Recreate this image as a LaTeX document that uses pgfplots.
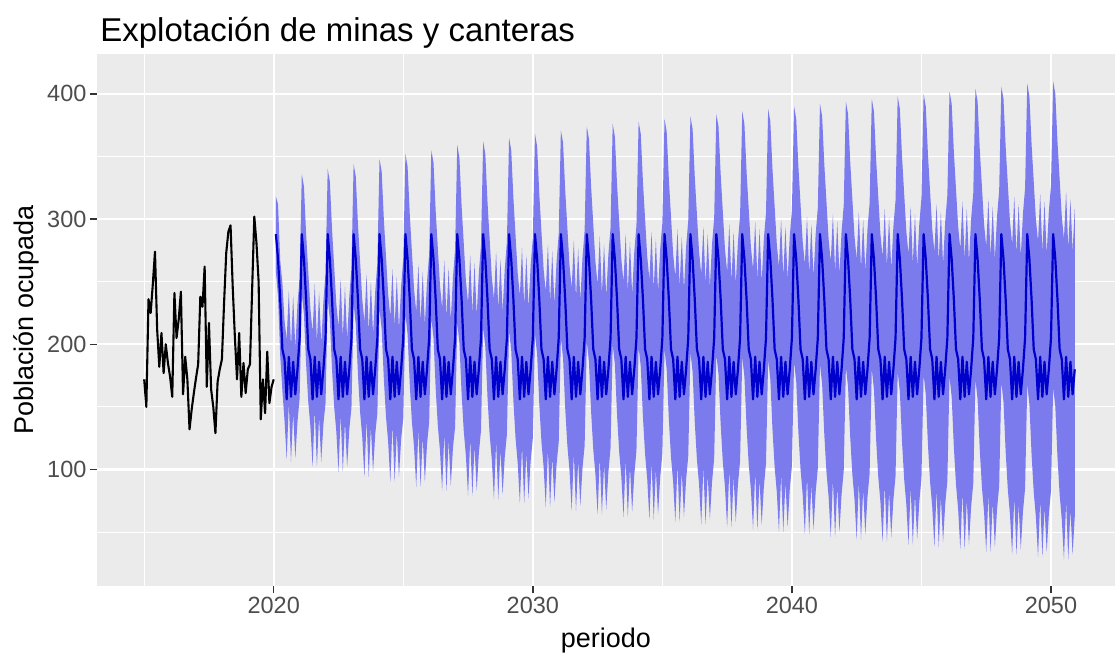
\documentclass[border=0pt]{standalone}
\usepackage{fontspec}
\setmainfont{Liberation Sans}
\usepackage{pgfplots}
\usepackage{pgfplotstable}
\pgfplotsset{compat=1.18}
\usepgfplotslibrary{fillbetween}

\definecolor{panel}{HTML}{EBEBEB}
\definecolor{band}{RGB}{123,123,237}
\definecolor{meanblue}{RGB}{0,0,205}
\definecolor{ticktext}{HTML}{4D4D4D}
\definecolor{tickmark}{HTML}{333333}

% t = months since Jan 2015
\pgfplotstableread{
t v
0 172
1 150
2 236
3 225
4 248
5 274
6 212
7 182
8 209
9 177
10 200
11 185
12 174
13 158
14 241
15 205
16 220
17 242
18 160
19 190
20 172
21 132
22 148
23 161
24 173
25 184
26 238
27 230
28 262
29 166
30 217
31 164
32 150
33 129
34 170
35 180
36 188
37 233
38 273
39 290
40 295
41 246
42 206
43 172
44 209
45 158
46 185
47 161
48 180
49 184
50 244
51 302
52 281
53 250
54 140
55 172
56 145
57 194
58 153
59 166
60 172
}\observed

% forecast: mean, lower and upper bound
\pgfplotstableread{
t m lo hi
61 288 258 318
62 268 238 312
63 236 191 267
64 196 163 249
65 188 139 219
66 156 108 204
67 190 153 243
68 158 106 198
69 186 145 239
70 160 109 197
71 180 138 232
72 205 157 253
73 288 240 336
74 268 224 326
75 236 184 288
76 196 154 258
77 188 134 228
78 156 102 210
79 190 148 248
80 158 102 202
81 186 142 242
82 160 106 200
83 180 136 234
84 205 153 257
85 288 236 340
86 268 220 330
87 236 180 292
88 196 150 262
89 188 130 232
90 156 98 214
91 190 144 252
92 158 98 206
93 186 138 246
94 160 102 204
95 180 132 238
96 205 149 261
97 288 232 344
98 268 216 334
99 236 176 296
100 196 146 266
101 188 126 236
102 156 94 218
103 190 140 256
104 158 94 210
105 186 134 250
106 160 98 208
107 180 128 242
108 205 145 265
109 288 228 348
110 268 212 338
111 236 172 300
112 196 142 270
113 188 122 240
114 156 90 222
115 190 136 260
116 158 90 214
117 186 130 254
118 160 94 212
119 180 124 246
120 205 141 269
121 288 224 352
122 268 208 342
123 236 168 304
124 196 138 274
125 188 118 244
126 156 86 226
127 190 132 264
128 158 86 218
129 186 126 258
130 160 90 216
131 180 120 250
132 205 138 272
133 288 221 355
134 268 205 345
135 236 165 307
136 196 135 277
137 188 115 247
138 156 83 229
139 190 129 267
140 158 83 221
141 186 123 261
142 160 87 219
143 180 117 253
144 205 134 276
145 288 217 359
146 268 201 349
147 236 161 311
148 196 131 281
149 188 111 251
150 156 79 233
151 190 125 271
152 158 79 225
153 186 119 265
154 160 83 223
155 180 113 257
156 205 131 279
157 288 214 362
158 268 198 352
159 236 158 314
160 196 128 284
161 188 108 254
162 156 76 236
163 190 122 274
164 158 76 228
165 186 116 268
166 160 80 226
167 180 110 260
168 205 128 282
169 288 211 365
170 268 195 355
171 236 155 317
172 196 125 287
173 188 105 257
174 156 73 239
175 190 119 277
176 158 73 231
177 186 113 271
178 160 77 229
179 180 107 263
180 205 125 285
181 288 208 368
182 268 192 358
183 236 152 320
184 196 122 290
185 188 102 260
186 156 70 242
187 190 116 280
188 158 70 234
189 186 110 274
190 160 74 232
191 180 104 266
192 205 122 288
193 288 205 371
194 268 189 361
195 236 149 323
196 196 119 293
197 188 99 263
198 156 67 245
199 190 113 283
200 158 67 237
201 186 107 277
202 160 71 235
203 180 101 269
204 205 119 291
205 288 202 374
206 268 186 364
207 236 146 326
208 196 116 296
209 188 96 266
210 156 64 248
211 190 110 286
212 158 64 240
213 186 104 280
214 160 68 238
215 180 98 272
216 205 117 293
217 288 200 376
218 268 184 366
219 236 144 328
220 196 114 298
221 188 94 268
222 156 62 250
223 190 108 288
224 158 62 242
225 186 102 282
226 160 66 240
227 180 96 274
228 205 115 295
229 288 198 378
230 268 182 368
231 236 142 330
232 196 112 300
233 188 92 270
234 156 60 252
235 190 106 290
236 158 60 244
237 186 100 284
238 160 64 242
239 180 94 276
240 205 113 297
241 288 196 380
242 268 180 370
243 236 140 332
244 196 110 302
245 188 90 272
246 156 58 254
247 190 104 292
248 158 58 246
249 186 98 286
250 160 62 244
251 180 92 278
252 205 111 299
253 288 194 382
254 268 178 372
255 236 138 334
256 196 108 304
257 188 88 274
258 156 56 256
259 190 102 294
260 158 56 248
261 186 96 288
262 160 60 246
263 180 90 280
264 205 109 301
265 288 192 384
266 268 176 374
267 236 136 336
268 196 106 306
269 188 86 276
270 156 54 258
271 190 100 296
272 158 54 250
273 186 94 290
274 160 58 248
275 180 88 282
276 205 107 303
277 288 190 386
278 268 174 376
279 236 134 338
280 196 104 308
281 188 84 278
282 156 52 260
283 190 98 298
284 158 52 252
285 186 92 292
286 160 56 250
287 180 86 284
288 205 105 305
289 288 188 388
290 268 172 378
291 236 132 340
292 196 102 310
293 188 82 280
294 156 50 262
295 190 96 300
296 158 50 254
297 186 90 294
298 160 54 252
299 180 84 286
300 205 103 307
301 288 186 390
302 268 170 380
303 236 130 342
304 196 100 312
305 188 80 282
306 156 48 264
307 190 94 302
308 158 48 256
309 186 88 296
310 160 52 254
311 180 82 288
312 205 101 309
313 288 184 392
314 268 168 382
315 236 128 344
316 196 98 314
317 188 78 284
318 156 46 266
319 190 92 304
320 158 46 258
321 186 86 298
322 160 50 256
323 180 80 290
324 205 99 311
325 288 182 394
326 268 166 384
327 236 126 346
328 196 96 316
329 188 76 286
330 156 44 268
331 190 90 306
332 158 44 260
333 186 84 300
334 160 48 258
335 180 78 292
336 205 97 313
337 288 180 396
338 268 164 386
339 236 124 348
340 196 94 318
341 188 74 288
342 156 42 270
343 190 88 308
344 158 42 262
345 186 82 302
346 160 46 260
347 180 76 294
348 205 95 315
349 288 178 398
350 268 162 388
351 236 122 350
352 196 92 320
353 188 72 290
354 156 40 272
355 190 86 310
356 158 40 264
357 186 80 304
358 160 44 262
359 180 74 296
360 205 93 317
361 288 176 400
362 268 160 390
363 236 120 352
364 196 90 322
365 188 70 292
366 156 38 274
367 190 84 312
368 158 38 266
369 186 78 306
370 160 42 264
371 180 72 298
372 205 91 319
373 288 174 402
374 268 158 392
375 236 118 354
376 196 88 324
377 188 68 294
378 156 36 276
379 190 82 314
380 158 36 268
381 186 76 308
382 160 40 266
383 180 70 300
384 205 89 321
385 288 172 404
386 268 156 394
387 236 116 356
388 196 86 326
389 188 66 296
390 156 34 278
391 190 80 316
392 158 34 270
393 186 74 310
394 160 38 268
395 180 68 302
396 205 87 323
397 288 170 406
398 268 154 396
399 236 114 358
400 196 84 328
401 188 64 298
402 156 32 280
403 190 78 318
404 158 32 272
405 186 72 312
406 160 36 270
407 180 66 304
408 205 85 325
409 288 168 408
410 268 152 398
411 236 112 360
412 196 82 330
413 188 62 300
414 156 30 282
415 190 76 320
416 158 30 274
417 186 70 314
418 160 34 272
419 180 64 306
420 205 83 327
421 288 166 410
422 268 150 400
423 236 110 362
424 196 80 332
425 188 60 302
426 156 28 284
427 190 74 322
428 158 28 276
429 186 68 316
430 160 32 274
431 180 62 308
}\forecast

\begin{document}
\begin{tikzpicture}
\begin{axis}[
    name=ax, at={(97pt,71pt)}, anchor=south west,
    scale only axis, width=1019pt, height=533pt,
    xmin=-21.9, xmax=449.6, ymin=6.6, ymax=431.9,
    axis background/.style={fill=panel},
    axis line style={draw=none},
    tick pos=left, tick align=outside,
    major tick length=7pt, minor tick length=0pt,
    tick style={color=tickmark, line width=1.4pt},
    xtick={60,180,300,420}, xticklabels={2020,2030,2040,2050},
    minor xtick={0,120,240,360},
    ytick={100,200,300,400}, yticklabels={100,200,300,400},
    minor ytick={50,150,250,350},
    grid=both,
    major grid style={white, line width=2.2pt},
    minor grid style={white, line width=1.1pt},
    ticklabel style={font=\fontsize{23.5}{28}\selectfont, text=ticktext},
    /pgf/number format/assume math mode=true,
  ]
  \addplot[name path=hi, draw=none, forget plot] table[x=t, y=hi]{\forecast};
  \addplot[name path=lo, draw=none, forget plot] table[x=t, y=lo]{\forecast};
  \addplot[fill=band, draw=none] fill between[of=hi and lo];
  \addplot[meanblue, line width=2.2pt, line join=round] table[x=t, y=m]{\forecast};
  \addplot[black, line width=2.1pt, line join=round] table[x=t, y=v]{\observed};
\end{axis}
\node[anchor=base west, font=\fontsize{33}{40}\selectfont] at ([yshift=12pt]ax.north west) {Explotación de minas y canteras};
\node[anchor=base, font=\fontsize{27}{32}\selectfont] at ([yshift=-61pt]ax.south) {periodo};
\node[anchor=base, rotate=90, font=\fontsize{27}{32}\selectfont] at ([xshift=-63pt]ax.west) {Población ocupada};
\path (0,0) rectangle (1116pt,658pt);
\end{tikzpicture}
\end{document}
